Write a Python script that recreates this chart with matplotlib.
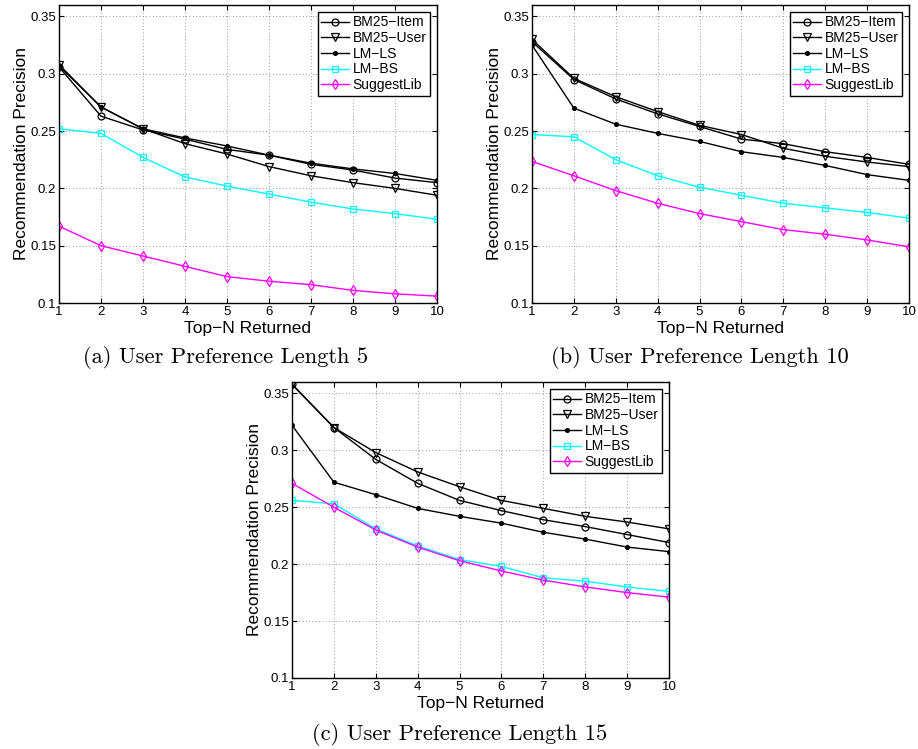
import matplotlib
matplotlib.use('Agg')
import matplotlib.pyplot as plt

plt.rcParams['font.family'] = ['Liberation Sans', 'DejaVu Sans']

# data
top_n = [1, 2, 3, 4, 5, 6, 7, 8, 9, 10]
methods = ['BM25\u2212Item', 'BM25\u2212User', 'LM\u2212LS', 'LM\u2212BS', 'SuggestLib']

len5_item = [0.306, 0.263, 0.251, 0.243, 0.234, 0.229, 0.221, 0.216, 0.209, 0.205]
len5_user = [0.308, 0.271, 0.252, 0.239, 0.230, 0.219, 0.211, 0.205, 0.200, 0.194]
len5_lmls = [0.307, 0.271, 0.252, 0.244, 0.237, 0.229, 0.222, 0.217, 0.213, 0.207]
len5_lmbs = [0.252, 0.248, 0.227, 0.210, 0.202, 0.195, 0.188, 0.182, 0.178, 0.173]
len5_sugg = [0.167, 0.150, 0.141, 0.132, 0.123, 0.119, 0.116, 0.111, 0.108, 0.106]

len10_item = [0.328, 0.295, 0.278, 0.265, 0.254, 0.243, 0.239, 0.232, 0.227, 0.221]
len10_user = [0.330, 0.296, 0.280, 0.267, 0.255, 0.247, 0.235, 0.228, 0.223, 0.219]
len10_lmls = [0.325, 0.270, 0.256, 0.248, 0.241, 0.232, 0.227, 0.220, 0.212, 0.207]
len10_lmbs = [0.247, 0.245, 0.225, 0.211, 0.201, 0.194, 0.187, 0.183, 0.179, 0.174]
len10_sugg = [0.2235, 0.211, 0.198, 0.187, 0.178, 0.171, 0.164, 0.160, 0.155, 0.149]

len15_item = [0.358, 0.320, 0.292, 0.271, 0.256, 0.247, 0.239, 0.233, 0.226, 0.219]
len15_user = [0.358, 0.320, 0.298, 0.281, 0.268, 0.256, 0.249, 0.242, 0.237, 0.231]
len15_lmls = [0.322, 0.272, 0.261, 0.249, 0.242, 0.236, 0.228, 0.222, 0.215, 0.211]
len15_lmbs = [0.256, 0.253, 0.231, 0.216, 0.204, 0.198, 0.188, 0.185, 0.180, 0.176]
len15_sugg = [0.271, 0.250, 0.230, 0.215, 0.203, 0.194, 0.186, 0.180, 0.175, 0.171]

y_ticks = [0.1, 0.15, 0.2, 0.25, 0.3, 0.35]
y_tick_labels = ['0.1', '0.15', '0.2', '0.25', '0.3', '0.35']

captions = ['(a) User Preference Length 5',
            '(b) User Preference Length 10',
            '(c) User Preference Length 15']

styles = [
    dict(color='black', marker='o', mfc='none', ms=5),
    dict(color='black', marker='v', mfc='none', ms=5.5),
    dict(color='black', marker='.', ms=5.5),
    dict(color='cyan', marker='s', mfc='none', ms=4.5),
    dict(color='magenta', marker='d', mfc='none', ms=5.5),
]

W, H = 918, 749
fig = plt.figure(figsize=(W / 100, H / 100), dpi=100)


def px_axes(left, top, right, bottom):
    return fig.add_axes([left / W, 1 - bottom / H, (right - left) / W, (bottom - top) / H])


def draw(ax, series, caption, cap_x, cap_y):
    for vals, lab, st in zip(series, methods, styles):
        ax.plot(top_n, vals, label=lab, lw=1.0, mew=0.9, **st)
    ax.set_xlim(1, 10)
    ax.set_ylim(0.1, 0.36)
    ax.set_xticks(top_n)
    ax.set_yticks(y_ticks)
    ax.set_yticklabels(y_tick_labels)
    ax.tick_params(direction='in', top=True, right=True, length=3.5, width=0.8,
                   labelsize=9.5, pad=2)
    ax.grid(True, linestyle=(0, (1, 3)), color='0.45', linewidth=0.6)
    for sp in ax.spines.values():
        sp.set_linewidth(1.0)
    ax.set_xlabel('Top\u2212N Returned', fontsize=12.5, labelpad=2)
    ax.set_ylabel('Recommendation Precision', fontsize=12.5, labelpad=1)
    leg = ax.legend(loc='upper right', fontsize=10, frameon=True, fancybox=False,
                    edgecolor='black', framealpha=1, labelspacing=0.12,
                    handlelength=2.0, handletextpad=0.25, borderpad=0.25,
                    borderaxespad=0.5)
    leg.get_frame().set_linewidth(1.0)
    fig.text(cap_x / W, 1 - cap_y / H, caption, family='cmr10', fontsize=16.2,
             ha='center', va='center')


ax_a = px_axes(59, 5, 437, 303)
draw(ax_a, [len5_item, len5_user, len5_lmls, len5_lmbs, len5_sugg], captions[0], 226, 358)

ax_b = px_axes(532, 5, 909, 303)
draw(ax_b, [len10_item, len10_user, len10_lmls, len10_lmbs, len10_sugg], captions[1], 700, 358)

ax_c = px_axes(292, 382, 669, 678)
draw(ax_c, [len15_item, len15_user, len15_lmls, len15_lmbs, len15_sugg], captions[2], 460, 734)

fig.savefig('out.png', dpi=100)
